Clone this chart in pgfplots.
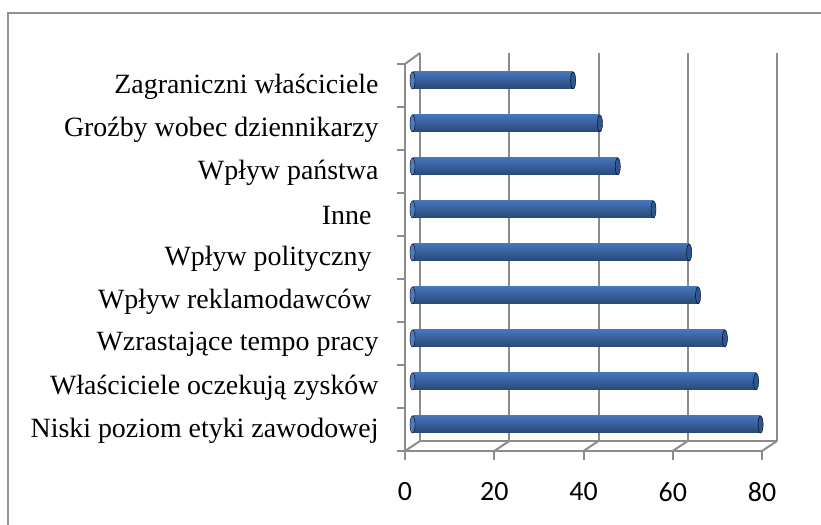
\documentclass[border=0pt]{standalone}
\usepackage{pgfplots}
\usepackage{pgfplotstable}
\pgfplotsset{compat=1.18}
\usepackage{fontspec}
\setmainfont{Liberation Serif}
\newfontfamily\carlito{Carlito}
\definecolor{gridgray}{RGB}{140,140,140}
\definecolor{framegray}{RGB}{145,145,145}
\definecolor{bartop}{RGB}{70,116,186}
\definecolor{barmid}{RGB}{100,150,222}
\definecolor{barbot}{RGB}{40,72,118}
\definecolor{barcap}{RGB}{46,86,146}
\definecolor{barleft}{RGB}{78,124,194}
\pgfplotstableread{
idx value
0 78
1 77
2 70
3 64
4 62
5 54
6 46
7 42
8 36
}\datatable
\begin{document}
\begin{tikzpicture}[x=1bp,y=1bp]
\path[use as bounding box] (0,0) rectangle (821,525);
\draw[framegray, line width=2bp] (8,0) -- (8,512) -- (821,512);
% back wall
\begin{axis}[at={(420bp,84bp)}, anchor=south west, scale only axis,
  width=357bp, height=388bp, xmin=0, xmax=80, ymin=0, ymax=1,
  axis x line*=bottom, axis y line=none,
  axis line style={gridgray, line width=2bp},
  xtick={0,20,40,60,80}, xticklabels={}, ytick=\empty,
  major tick length=0pt,
  xmajorgrids, grid style={gridgray, line width=2bp}]
\end{axis}
% floor and left-wall depth edges
\foreach \k in {0,1,2,3,4} {
  \draw[gridgray, line width=2bp] (405+89.25*\k,74) -- (420+89.25*\k,84);
}
\draw[gridgray, line width=2bp] (405,461) -- (420,472);
% front axis
\begin{axis}[at={(405bp,74bp)}, anchor=south west, scale only axis,
  width=357bp, height=387bp, xmin=0, xmax=80, ymin=-0.5, ymax=8.5,
  axis x line*=bottom, axis y line*=left,
  axis line style={gridgray, line width=2bp},
  xtick={0,20,40,60,80},
  ytick={0,...,8},
  yticklabels={Niski poziom etyki zawodowej, Właściciele oczekują zysków, Wzrastające tempo pracy, Wpływ reklamodawców\kern7bp, Wpływ polityczny\kern7bp, Inne\kern7bp, Wpływ państwa, Groźby wobec dziennikarzy, Zagraniczni właściciele},
  minor ytick={-0.5,0.5,...,8.5},
  tick align=outside,
  major tick length=9bp, minor tick length=8bp,
  major x tick style={gridgray, line width=2bp},
  major y tick style={draw=none},
  minor y tick style={gridgray, line width=2bp},
  /pgf/number format/assume math mode=true,
  xticklabel style={font=\carlito\fontsize{28}{30}\selectfont, yshift=-19bp},
  yticklabel style={font=\fontsize{28}{30}\selectfont, xshift=-14bp, yshift=-1bp}]
\end{axis}
% bars at mid-depth
\begin{axis}[at={(412.5bp,79bp)}, anchor=south west, scale only axis,
  width=357bp, height=387bp, xmin=0, xmax=80, ymin=-0.5, ymax=8.5,
  hide axis, clip=false]
\addplot[only marks, mark=*, mark size=8.5bp,
  mark options={xscale=0.3, draw=none, fill=barleft}]
  table[x expr=0, y=idx] {\datatable};
\pgfplotsinvokeforeach{0,...,8}{
\addplot[xbar, bar width=17bp, bar shift=0pt, draw=none,
  top color=bartop, middle color=barmid, bottom color=barbot,
  restrict y to domain=#1:#1]
  table[x=value, y=idx] {\datatable};
}
\addplot[only marks, mark=*, mark size=8.5bp,
  mark options={xscale=0.3, fill=barcap, draw=none}]
  table[x=value, y=idx] {\datatable};
\end{axis}
\end{tikzpicture}
\end{document}
